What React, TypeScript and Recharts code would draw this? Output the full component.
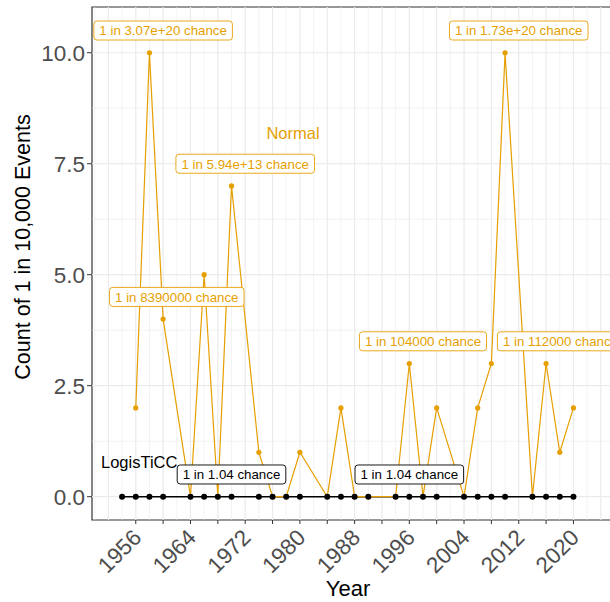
import React from 'react';
import {
  LineChart,
  Line,
  XAxis,
  YAxis,
  ReferenceLine,
  ReferenceArea,
  ReferenceDot,
  Label
} from 'recharts';

// Colours
const ORANGE = '#E69F00';
const BLACK = '#000000';
const GRID = '#EBEBEB';
const FONT = '"Liberation Sans", Arial, Helvetica, sans-serif';

// Data
const years = [1954, 1956, 1958, 1960, 1964, 1966, 1968, 1970, 1974, 1976, 1978, 1980, 1984, 1986,
  1988, 1990, 1994, 1996, 1998, 2000, 2004, 2006, 2008, 2010, 2014, 2016, 2018, 2020];
const normalCounts = [null, 2, 10, 4, 0, 5, 0, 7, 1, 0, 0, 1, 0, 2,
  0, 0, 0, 3, 0, 2, 0, 2, 3, 10, 0, 3, 1, 2];
const logisticcCounts = [0, 0, 0, 0, 0, 0, 0, 0, 0, 0, 0, 0, 0, 0,
  0, 0, 0, 0, 0, 0, 0, 0, 0, 0, 0, 0, 0, 0];

// Annotation boxes (chance labels)
const labelTexts = [
  '1 in 3.07e+20 chance',
  '1 in 5.94e+13 chance',
  '1 in 8390000 chance',
  '1 in 1.73e+20 chance',
  '1 in 104000 chance',
  '1 in 112000 chance',
  '1 in 1.04 chance',
  '1 in 1.04 chance'
];
const labelYears = [1960, 1972, 1962, 2012, 1998, 2018.1, 1970, 1996];
const labelValues = [10.5, 7.5, 4.5, 10.5, 3.5, 3.5, 0.5, 0.5];
const labelSeries = ['normal', 'normal', 'normal', 'normal', 'normal', 'normal', 'logisticc', 'logisticc'];

// Series name texts
const seriesNames = ['Normal', 'LogisTiCC'];
const seriesNameYears = [1979, 1956.5];
const seriesNameValues = [8.2, 0.77];
const seriesColors = [ORANGE, BLACK];

// Axes
const xTicks = [1956, 1960, 1964, 1968, 1972, 1976, 1980, 1984, 1988, 1992, 1996, 2000, 2004, 2008, 2012, 2016, 2020];
const xGridMajor = [1952, 1956, 1960, 1964, 1968, 1972, 1976, 1980, 1984, 1988, 1992, 1996, 2000, 2004, 2008, 2012, 2016, 2020, 2024];
const xGridMinor = [1950, 1954, 1958, 1962, 1966, 1970, 1974, 1978, 1982, 1986, 1990, 1994, 1998, 2002, 2006, 2010, 2014, 2018, 2022, 2026];
const yTicks = [0, 2.5, 5, 7.5, 10];
const yGridMinor = [1.25, 3.75, 6.25, 8.75];
const X_DOMAIN = [1949.6, 2027.1];
const Y_DOMAIN = [-0.525, 11.03];

const data = years.map((year, i) => ({
  year,
  normal: normalCounts[i],
  logisticc: logisticcCounts[i]
}));

let ctx: CanvasRenderingContext2D | null = null;
const measure = (text: string, size: number) => {
  if (!ctx) ctx = document.createElement('canvas').getContext('2d');
  if (!ctx) return text.length * size * 0.5;
  ctx.font = `${size}px "Liberation Sans", Arial`;
  return ctx.measureText(text).width;
};

// Rounded label box like ggrepel's geom_label_repel
const BoxLabel = ({ viewBox, text, color }: any) => {
  const cx = viewBox.x + (viewBox.width || 0) / 2;
  const cy = viewBox.y + (viewBox.height || 0) / 2;
  const w = measure(text, 13.3) + 11;
  const h = 19;
  return (
    <g>
      <rect x={cx - w / 2} y={cy - h / 2} width={w} height={h} rx={3} ry={3}
        fill="#FFFFFF" stroke={color} strokeWidth={0.9} />
      <text x={cx} y={cy} dy="0.36em" textAnchor="middle" fontSize={13.3} fill={color}>{text}</text>
    </g>
  );
};

const NameLabel = ({ viewBox, text, color }: any) => {
  const cx = viewBox.x + (viewBox.width || 0) / 2;
  const cy = viewBox.y + (viewBox.height || 0) / 2;
  return (
    <text x={cx} y={cy} dy="0.36em" textAnchor="middle" fontSize={16.5} fill={color}>{text}</text>
  );
};

// Rotated year labels, only every 8 years is labelled
const XTick = (props: any) => {
  const { x, y, payload } = props;
  if ((payload.value - 1956) % 8 !== 0) return null;
  const ax = x + 7;
  const ay = y + 13;
  return (
    <text x={ax} y={ay} transform={`rotate(-45 ${ax} ${ay})`} textAnchor="end"
      fontSize={22.5} fill="#4D4D4D">{payload.value}</text>
  );
};

export default function App() {
  return (
    <div style={{ position: 'absolute', left: 0, top: 0, width: 610, height: 602, overflow: 'hidden', background: '#fff', fontFamily: FONT }}>
      <LineChart width={630} height={602} data={data} margin={{ top: 7, right: 8, bottom: 22, left: 32 }}>
        <XAxis
          dataKey="year"
          type="number"
          domain={X_DOMAIN}
          allowDataOverflow
          ticks={xTicks}
          interval={0}
          tick={<XTick />}
          tickSize={4}
          tickLine={{ stroke: '#333333', strokeWidth: 1 }}
          axisLine={false}
          height={60}
        >
          <Label content={() => (
            <text x={348} y={596} textAnchor="middle" fontSize={22} fill="#000">Year</text>
          )} />
        </XAxis>
        <YAxis
          type="number"
          domain={Y_DOMAIN}
          allowDataOverflow
          ticks={yTicks}
          interval={0}
          tickFormatter={(v: number) => v.toFixed(1)}
          tick={{ fill: '#4D4D4D', fontSize: 22.5 }}
          tickSize={5}
          tickMargin={2}
          tickLine={{ stroke: '#333333', strokeWidth: 1 }}
          axisLine={false}
          width={60}
        >
          <Label content={() => (
            <text x={30} y={247} transform="rotate(-90 30 247)" textAnchor="middle" fontSize={21.5} fill="#000">
              Count of 1 in 10,000 Events
            </text>
          )} />
        </YAxis>

        {yGridMinor.map((v) => (
          <ReferenceLine key={`hm-${v}`} y={v} stroke={GRID} strokeWidth={0.6} />
        ))}
        {xGridMinor.map((v) => (
          <ReferenceLine key={`vm-${v}`} x={v} stroke={GRID} strokeWidth={0.6} />
        ))}
        {yTicks.map((v) => (
          <ReferenceLine key={`hM-${v}`} y={v} stroke={GRID} strokeWidth={1.2} />
        ))}
        {xGridMajor.map((v) => (
          <ReferenceLine key={`vM-${v}`} x={v} stroke={GRID} strokeWidth={1.2} />
        ))}
        <ReferenceArea x1={X_DOMAIN[0]} x2={X_DOMAIN[1]} y1={Y_DOMAIN[0]} y2={Y_DOMAIN[1]}
          fill="none" fillOpacity={0} stroke="#333333" strokeWidth={1.2} />

        <Line dataKey="logisticc" type="linear" stroke={BLACK} strokeWidth={1.6}
          dot={false} activeDot={false} isAnimationActive={false} />
        <Line dataKey="normal" type="linear" stroke={ORANGE} strokeWidth={1.2}
          dot={{ r: 2.6, fill: ORANGE, stroke: 'none' }} activeDot={false} isAnimationActive={false} />
        <Line dataKey="logisticc" type="linear" stroke="none" strokeWidth={0}
          dot={{ r: 3, fill: BLACK, stroke: 'none' }} activeDot={false} isAnimationActive={false} />

        {labelTexts.map((t, i) => (
          <ReferenceDot key={`lab-${i}`} x={labelYears[i]} y={labelValues[i]} r={0}
            fill="none" stroke="none"
            label={<BoxLabel text={t} color={labelSeries[i] === 'normal' ? ORANGE : BLACK} />} />
        ))}
        {seriesNames.map((n, i) => (
          <ReferenceDot key={`name-${i}`} x={seriesNameYears[i]} y={seriesNameValues[i]} r={0}
            fill="none" stroke="none"
            label={<NameLabel text={n} color={seriesColors[i]} />} />
        ))}
      </LineChart>
    </div>
  );
}
